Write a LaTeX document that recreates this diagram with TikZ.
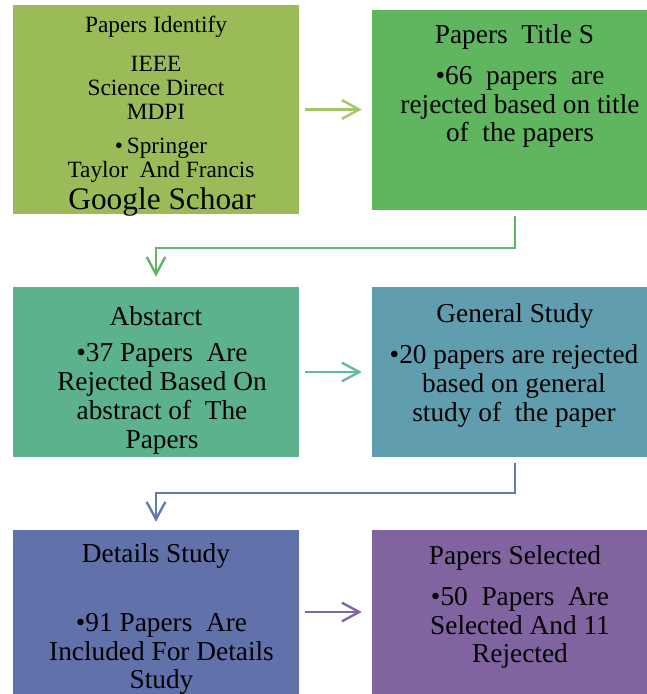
\documentclass[tikz,border=0pt]{standalone}
\usepackage{fontspec}
\setmainfont{Liberation Serif}
\usetikzlibrary{arrows.meta}
\definecolor{boxA}{RGB}{155,187,89}
\definecolor{boxB}{RGB}{95,182,95}
\definecolor{boxC}{RGB}{93,178,142}
\definecolor{boxD}{RGB}{96,157,174}
\definecolor{boxE}{RGB}{97,113,170}
\definecolor{boxF}{RGB}{128,100,160}
\definecolor{lnA}{RGB}{165,198,104}
\definecolor{lnB}{RGB}{95,182,100}
\definecolor{lnC}{RGB}{100,182,165}
\definecolor{lnD}{RGB}{100,120,178}
\definecolor{lnE}{RGB}{130,100,168}
\tikzset{
  lbox/.style={inner sep=0pt,minimum width=214.5pt,fill=#1},
  rbox/.style={inner sep=0pt,minimum width=206.25pt,fill=#1},
  small/.style={align=center,inner sep=0pt,font=\fontsize{17.5}{18}\selectfont},
  ttl/.style={align=center,inner sep=0pt,font=\fontsize{20.5}{21}\selectfont},
  body/.style={align=center,inner sep=0pt,font=\fontsize{20.5}{21.6}\selectfont},
  link/.style={draw=#1,line width=1.8pt,-{Straight Barb[length=13pt,width=14pt,line width=1.8pt]},
    shorten <=4.5pt,shorten >=7.5pt},
}
\begin{document}
\begin{tikzpicture}[x=0.75pt,y=-0.75pt]
\useasboundingbox (0,0) rectangle (647,694);
% boxes
\node[lbox=boxA,minimum height=156.75pt] (b1) at (156,109.5) {};
\node[rbox=boxB,minimum height=150pt] (b2) at (509.5,110) {};
\node[lbox=boxC,minimum height=127.5pt] (b3) at (156,372) {};
\node[rbox=boxD,minimum height=127.5pt] (b4) at (509.5,372) {};
\node[lbox=boxE,minimum height=123pt] (b5) at (156,612) {};
\node[rbox=boxF,minimum height=123pt] (b6) at (509.5,612) {};
% texts
\node[small] (b1t) at (156,27) {Papers Identify};
\node[small] (b1a) at (156,88) {IEEE\\Science Direct\\MDPI};
\node[small] (b1b) at (161,160) {\textbullet\,Springer\\Taylor\ \ And Francis};
\node[align=center,inner sep=0pt,font=\fontsize{23.5}{24}\selectfont] (b1c) at (162,202) {Google Schoar};
\node[ttl] (b2t) at (514.5,37) {Papers\ \ Title S};
\node[body] (b2x) at (520,107) {\textbullet 66\ \ papers\ \ are\\rejected based on title\\of\ \ the papers};
\node[ttl] (b3t) at (156,316) {Abstarct};
\node[body] (b3x) at (162,399) {\textbullet 37 Papers\ \ Are\\Rejected Based On\\abstract of\ \ The\\Papers};
\node[ttl] (b4t) at (515,316) {General Study};
\node[body] (b4x) at (514,386) {\textbullet 20 papers are rejected\\based on general\\study of\ \ the paper};
\node[ttl] (b5t) at (156,556) {Details Study};
\node[body] (b5x) at (161.5,654) {\textbullet 91 Papers\ \ Are\\Included For Details\\Study};
\node[ttl] (b6t) at (515,558) {Papers Selected};
\node[body] (b6x) at (520,628) {\textbullet 50\ \ Papers\ \ Are\\Selected And 11\\Rejected};
% connectors
\draw[link=lnA] (b1.east) -- (b2.west |- b1.east);
\draw[link=lnB] ([xshift=4pt]b2.south) -- ++(0,38) -| (b3.north);
\draw[link=lnC] (b3.east) -- (b4.west);
\draw[link=lnD] ([xshift=4pt]b4.south) -- ++(0,36) -| ([yshift=-1.5pt]b5.north);
\draw[link=lnE] (b5.east) -- (b6.west);
\end{tikzpicture}
\end{document}
